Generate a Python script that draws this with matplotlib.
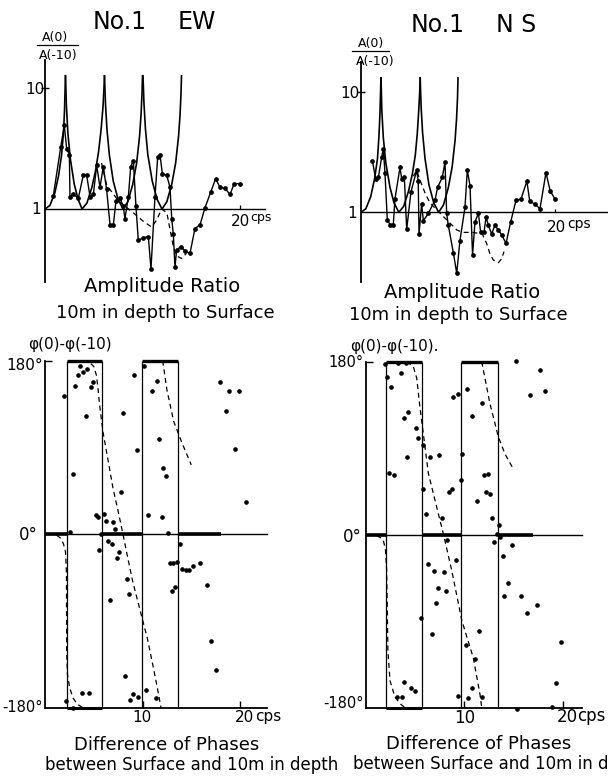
import numpy as np
import matplotlib
matplotlib.use("Agg")
import matplotlib.pyplot as plt

W, H = 608, 778
plt.rcParams['font.family'] = ['DejaVu Sans']

# ---------------- amplitude ratio, EW ----------------
ew_amp_f = [0.85, 1.61, 1.98, 2.22, 2.50, 2.56, 2.91, 3.42, 3.93, 4.27, 4.62, 4.96, 5.30, 5.64, 5.98,
            6.32, 6.67, 7.01, 7.28, 7.69, 8.03, 8.2, 8.55, 8.79, 9.06, 9.33, 9.57, 10.09, 10.6, 10.87,
            11.28, 11.56, 11.79, 12.04, 12.48, 12.82, 13.0, 13.16, 13.33, 13.5, 13.95, 14.36, 14.87,
            15.38, 15.9, 16.4, 17.0, 17.5, 17.95, 18.46, 18.98, 19.4, 20.0]
ew_amp_r = [1.28, 3.24, 4.9, 3.16, 2.82, 1.26, 1.32, 1.23, 1.91, 1.91, 1.26, 1.32, 2.29, 1.51, 2.24,
            1.45, 0.74, 0.74, 1.17, 1.23, 1.05, 0.83, 1.26, 2.24, 2.51, 1.05, 0.55, 0.58, 0.59, 0.32,
            1.26, 2.69, 2.82, 1.95, 1.91, 1.51, 0.83, 0.62, 0.33, 0.46, 0.49, 0.45, 0.43,
            0.69, 0.74, 1.02, 1.38, 1.78, 1.51, 1.48, 1.32, 1.62, 1.62]
ew_dash_f = [5.8, 6.32, 7.52, 9.06, 10.09, 10.94, 11.45, 11.96, 12.5, 12.82, 13.16, 13.5, 14.0, 14.5]
ew_dash_r = [2.4, 1.58, 1.17, 0.93, 0.79, 0.71, 0.81, 1.0, 0.93, 0.68, 0.49, 0.41, 0.39, 0.43]
# theoretical curve, one list per lobe
ew_th_f = [[0, 0.5, 1.0, 1.4, 1.7, 1.9, 2.0, 2.1],
           [2.1, 2.2, 2.35, 2.6, 3.0, 3.4, 3.8, 4.3, 4.8, 5.2, 5.5, 5.75, 5.95, 6.05, 6.1],
           [6.1, 6.2, 6.35, 6.6, 7.0, 7.5, 8.0, 8.5, 9.0, 9.4, 9.7, 9.85, 9.95, 10.0],
           [10.05, 10.15, 10.3, 10.55, 11.0, 11.5, 12.0, 12.5, 13.0, 13.4, 13.7, 13.85, 13.95, 14.0]]
ew_th_r = [[1.0, 1.07, 1.35, 1.9, 2.8, 4.3, 6.5, 12.6],
           [12.6, 7.0, 4.2, 2.6, 1.6, 1.2, 1.0, 1.12, 1.5, 2.1, 3.0, 4.5, 7.0, 10.0, 12.6],
           [12.6, 7.5, 4.6, 2.8, 1.7, 1.2, 1.0, 1.15, 1.6, 2.4, 4.0, 6.0, 9.0, 12.6],
           [12.6, 7.5, 4.6, 2.8, 1.7, 1.2, 1.0, 1.15, 1.6, 2.4, 4.0, 6.0, 9.0, 12.6]]

# ---------------- amplitude ratio, NS ----------------
ns_amp_f = [1.17, 1.51, 1.79, 2.13, 2.3, 2.47, 2.71, 2.99, 3.33, 3.5, 4.02, 4.19, 4.47, 4.71, 5.15,
            5.74, 5.9, 5.98, 6.25, 6.43, 6.94, 7.63, 7.9, 8.38, 8.66, 8.83, 9.0, 9.52, 9.87, 10.2,
            10.72, 10.96, 11.24, 11.5, 11.75, 12.1, 12.34, 12.68, 12.89, 13.13, 13.47, 13.81, 14.16,
            14.5, 14.95, 15.43, 15.98, 16.5, 17.1, 17.4, 17.94, 18.45, 19.07, 19.5, 20.0]
ns_amp_r = [2.69, 1.91, 1.95, 2.88, 3.39, 2.14, 0.87, 0.79, 0.79, 1.29, 2.37, 1.91, 1.95, 0.72, 1.48,
            2.24, 1.82, 0.66, 1.17, 0.85, 0.98, 1.26, 1.62, 1.95, 2.63, 0.98, 0.78, 0.46, 0.31, 0.58,
            1.10, 2.24, 1.66, 0.44, 0.83, 0.98, 0.68, 0.68, 0.91, 0.78, 0.66, 0.78, 0.71,
            0.65, 0.55, 0.83, 1.26, 1.29, 1.82, 1.23, 1.17, 1.07, 2.14, 1.51, 1.29]
ns_dash_f = [5.4, 5.74, 6.08, 6.6, 7.1, 7.8, 8.8, 9.9, 10.5, 11.5, 12.5, 12.95, 13.3, 13.64, 14.16, 14.5, 14.74]
ns_dash_r = [2.0, 2.24, 1.86, 1.45, 1.2, 1.05, 0.87, 0.71, 0.68, 0.68, 0.66, 0.55, 0.45, 0.40, 0.38, 0.41, 0.47]
ns_th_f = [[0, 0.5, 1.0, 1.4, 1.7, 1.85, 1.95, 2.06],
           [2.06, 2.15, 2.3, 2.55, 3.0, 3.4, 3.9, 4.4, 4.9, 5.3, 5.6, 5.8, 5.95, 6.05, 6.1],
           [6.1, 6.2, 6.35, 6.6, 7.0, 7.5, 8.0, 8.5, 9.0, 9.4, 9.7, 9.85, 9.95, 10.0]]
ns_th_r = [[1.0, 1.07, 1.35, 1.9, 2.8, 4.3, 6.5, 13.2],
           [13.2, 7.0, 4.2, 2.6, 1.6, 1.2, 1.0, 1.12, 1.5, 2.1, 3.0, 4.5, 7.0, 10.0, 13.2],
           [13.2, 7.5, 4.6, 2.8, 1.7, 1.2, 1.0, 1.15, 1.6, 2.4, 4.0, 6.0, 9.0, 13.2]]

# ---------------- phase difference, EW ----------------
ew_ph_f = [1.98, 2.84, 2.56, 3.08, 3.42, 3.59, 3.93, 4.34, 4.2, 4.69, 4.89, 5.23, 5.47, 5.57, 5.71,
           6.05, 6.26, 6.43, 6.84, 7.0, 7.18, 7.35, 7.59, 7.76, 7.97, 6.67, 8.38, 8.62, 9.13, 9.44,
           10.15, 10.6, 11.0, 11.5, 11.73, 12.0, 12.14, 12.38, 12.65, 12.82, 13.16, 13.5, 13.85, 13.0,
           13.33, 14.1, 14.46, 14.8, 15.15, 15.9, 16.6, 17.95, 18.9, 19.9, 18.56, 19.5, 20.6, 17.0,
           17.54, 8.2, 8.72, 9.06, 9.57, 10.36, 11.38, 2.15, 2.9, 3.76, 4.55]
ew_ph_v = [143, 63, 2, 154, 165, 174, 168, 171, 123, 153, 158, 20, 18, -16, 0,
           21, 14, -7, -10, 13, 6, -25, -18, 44, 126, -68, -46, -62, 165, 87,
           174, 20, 149, 159, 99, 18, 69, 60, 1, -30, -30, -29, -10, -59,
           -55, -36, -37, -37, -33, -30, -53, 158, 149, 149, 128, 88, 34, -111,
           -141, -147, -172, -166, -169, -161, -170, -173, -180, -165, -164]
ew_edges = [2.23, 5.88, 9.92, 13.67]
ew_d1_f = [1.2, 1.6, 1.9, 2.1, 2.2, 2.22, 2.3, 2.55, 2.9, 3.3, 3.9]
ew_d1_v = [-1, -4, -10, -18, -40, -120, -145, -160, -170, -176, -180]
ew_d2_f = [3.9, 4.5, 5.0, 5.27, 5.45, 5.6, 5.95, 6.5, 6.97, 7.5, 8.0, 8.5, 9.0, 9.86, 10.5, 11.05, 11.5, 11.9]
ew_d2_v = [180, 179, 174, 165, 150, 134, 106, 75, 48, 24, 0, -25, -49, -83, -108, -135, -158, -180]
ew_d3_f = [12.07, 12.5, 13.2, 14.0, 15.0]
ew_d3_v = [180, 150, 117, 96, 72]

# ---------------- phase difference, NS ----------------
ns_ph_f = [1.96, 2.13, 2.54, 3.31, 4.09, 3.55, 4.33, 3.92, 5.1, 5.34, 4.16, 2.4, 2.9, 5.79, 5.85,
           6.12, 6.53, 7.47, 7.72, 8.49, 8.73, 8.22, 9.17, 6.36, 6.93, 7.95, 7.37, 8.12, 7.1, 8.83,
           9.4, 10.3, 9.75, 9.68, 10.82, 11.27, 11.8, 12.0, 12.45, 12.2, 12.6, 12.85, 13.3, 13.53,
           13.63, 13.06, 13.9, 14.82, 14.4, 14.04, 15.8, 16.35, 17.36, 15.23, 16.68, 17.7, 18.2,
           5.58, 6.76, 19.83, 19.32, 10.15, 11.1, 11.53, 10.76, 10.35, 9.4, 11.76, 3.89, 4.6, 5.0,
           3.15, 3.65, 15.4, 18.95]
ns_ph_v = [178, 164, 154, 179, 179, 168, 128, 121, 111, 101, 81, 64, 62, 93, 48,
           22, 81, 83, 17, 44, 48, -6, -26, -30, -38, -39, -55, -59, -71, 143,
           146, 152, 84, 57, 123, 35, 137, 62, 63, 44, 42, 17, 1, 10,
           -2, -8, -22, -11, -50, -64, -64, -82, -73, 181, 145, 171, 149,
           -87, -103, -112, -154, -115, -129, -100, -160, -170, -168, -169, -153, -160, -163,
           -169, -169, -181, -179]
ns_edges = [2.06, 5.75, 9.68, 13.46]
ns_d1_f = [1.1, 1.5, 1.79, 2.0, 2.12, 2.2, 2.25, 2.47, 2.97, 3.5, 4.0]
ns_d1_v = [-1, -3, -6, -15, -35, -80, -120, -152, -169, -176, -180]
ns_d2_f = [4.16, 4.83, 5.18, 5.5, 5.85, 6.36, 7.2, 7.88, 8.73, 9.5, 9.75, 10.92, 11.6, 11.78]
ns_d2_v = [180, 175, 163, 133, 105, 64, 29, 1, -37, -76, -89, -128, -166, -180]
ns_d3_f = [11.78, 12.6, 13.46, 14.14, 14.9]
ns_d3_v = [180, 137, 102, 84, 70]

fig = plt.figure(figsize=(W / 100, H / 100), dpi=100)


def add_ax(x0, ytop, x1, ybot):
    return fig.add_axes([x0 / W, 1 - ybot / H, (x1 - x0) / W, (ybot - ytop) / H])


def txt(x, y, s, size=12, ha='left', **kw):
    fig.text(x / W, 1 - y / H, s, fontsize=size, ha=ha, va='center', **kw)


dash = (0, (4, 3))


def amp_panel(ax, xmax, lo, hi, th_f, th_r, f, r, df, dr, xline_end):
    ax.set_yscale('log')
    ax.set_xlim(0, xmax)
    ax.set_ylim(lo, hi)
    for s in ['top', 'right', 'bottom']:
        ax.spines[s].set_visible(False)
    ax.spines['left'].set_linewidth(1.3)
    ax.patch.set_alpha(0)
    ax.set_xticks([])
    ax.yaxis.set_minor_locator(matplotlib.ticker.NullLocator())
    ax.set_yticks([10])
    ax.set_yticklabels([])
    ax.tick_params(axis='y', direction='inout', length=6, width=1)
    ax.plot([0, xline_end], [1, 1], color='black', lw=1.0, clip_on=False)
    ax.vlines(20, 1, 1.07, color='black', lw=0.9)
    for tf, tr in zip(th_f, th_r):
        ax.plot(tf, tr, color='black', lw=1.2)
    ax.plot(df, dr, color='black', lw=0.9, ls=dash)
    ax.plot(f, r, color='black', lw=1.0, marker='o', ms=2.4)


def phase_panel(ax, xmax, lo, hi, edges, f, v, dashes, thick_end, xend):
    ax.set_xlim(0, xmax)
    ax.set_ylim(lo, hi)
    ax.patch.set_alpha(0)
    for s in ['top', 'right']:
        ax.spines[s].set_visible(False)
    ax.spines['left'].set_bounds(-180, 180)
    ax.spines['left'].set_linewidth(1.3)
    ax.spines['bottom'].set_position(('data', -180))
    ax.spines['bottom'].set_bounds(0, xend)
    ax.spines['bottom'].set_linewidth(1.3)
    ax.set_xticks([10, 20])
    ax.set_xticklabels([])
    ax.set_yticks([180])
    ax.set_yticklabels([])
    ax.tick_params(direction='in', length=5, width=1)
    for e in edges:
        ax.vlines(e, -180, 180, color='black', lw=0.9)
    ax.plot([0, xend], [0, 0], color='black', lw=1.0)
    ax.plot([0, edges[0]], [0, 0], color='black', lw=2.6, solid_capstyle='butt')
    ax.plot([edges[1], edges[2]], [0, 0], color='black', lw=2.6, solid_capstyle='butt')
    ax.plot([edges[3], thick_end], [0, 0], color='black', lw=2.6, solid_capstyle='butt')
    ax.plot([edges[0], edges[1]], [180, 180], color='black', lw=2.4, solid_capstyle='butt')
    ax.plot([edges[2], edges[3]], [180, 180], color='black', lw=2.4, solid_capstyle='butt')
    ax.plot([edges[0], edges[1]], [-180, -180], color='black', lw=2.2, solid_capstyle='butt')
    for df, dv in dashes:
        ax.plot(df, dv, color='black', lw=0.9, ls=dash)
    ax.plot(f, v, ls='none', marker='o', ms=2.3, color='black', clip_on=False)


# EW amplitude
ax1 = add_ax(45, 60, 265, 282)
amp_panel(ax1, 220 / 9.75, 10 ** -0.603, 10 ** 1.231, ew_th_f, ew_th_r,
          ew_amp_f, ew_amp_r, ew_dash_f, ew_dash_r, 22.6)
# NS amplitude
ax2 = add_ax(361, 62, 608, 282)
amp_panel(ax2, 247 / 9.7, 10 ** -0.581, 10 ** 1.2525, ns_th_f, ns_th_r,
          ns_amp_f, ns_amp_r, ns_dash_f, ns_dash_r, 25.5)
# EW phase
ax3 = add_ax(45, 352, 270, 712)
phase_panel(ax3, 225 / 9.75, -184.2, 189.0, ew_edges, ew_ph_f, ew_ph_v,
            [(ew_d1_f, ew_d1_v), (ew_d2_f, ew_d2_v), (ew_d3_f, ew_d3_v)], 18.0, 22.8)
# NS phase
ax4 = add_ax(365.7, 352, 608, 712)
phase_panel(ax4, 242.3 / 9.85, -184.5, 190.1, ns_edges, ns_ph_f, ns_ph_v,
            [(ns_d1_f, ns_d1_v), (ns_d2_f, ns_d2_v), (ns_d3_f, ns_d3_v)], 17.0, 22.0)

# titles
txt(93, 22, 'No.1', 17)
txt(178, 22, 'EW', 17)
txt(411, 25, 'No.1', 17)
txt(496, 25, 'N S', 17)

# amplitude labels
txt(55, 37, 'A(0)', 9, ha='center')
fig.add_artist(plt.Line2D([37 / W, 78 / W], [1 - 45 / H, 1 - 45 / H], color='black', lw=0.9))
txt(58, 56, 'A(-10)', 9, ha='center')
txt(371, 43, 'A(0)', 9, ha='center')
fig.add_artist(plt.Line2D([352 / W, 389 / W], [1 - 51 / H, 1 - 51 / H], color='black', lw=0.9))
txt(375, 61, 'A(-10)', 9, ha='center')
txt(35, 90, '10', 11, ha='center')
txt(36, 210, '1', 11, ha='center')
txt(350, 93, '10', 11, ha='center')
txt(352, 213, '1', 11, ha='center')
txt(231, 221, '20', 11)
txt(250, 217, 'cps', 9)
txt(547, 227, '20', 11)
txt(567, 224, 'cps', 10)
txt(162, 287, 'Amplitude Ratio', 14, ha='center')
txt(165, 313, '10m in depth to Surface', 13, ha='center')
txt(462, 293, 'Amplitude Ratio', 14, ha='center')
txt(458, 315, '10m in depth to Surface', 13, ha='center')

# phase labels
txt(28, 345, 'φ(0)-φ(-10)', 11)
txt(350, 347, 'φ(0)-φ(-10).', 11)
txt(43, 366, '180°', 11, ha='right')
txt(38, 535, '0°', 12, ha='right')
txt(43, 707, '-180°', 10.5, ha='right')
txt(364, 362, '180°', 10.5, ha='right')
txt(362, 537, '0°', 12, ha='right')
txt(364, 704, '-180°', 10.5, ha='right')
txt(142, 718, '10', 11, ha='center')
txt(235, 718, '20', 11)
txt(255, 717, 'cps', 11)
txt(465, 718, '10', 12, ha='center')
txt(557, 717, '20', 12)
txt(577, 716, 'cps', 12)
txt(167, 745, 'Difference of Phases', 13, ha='center')
txt(45, 765, 'between Surface and 10m in depth', 12)
txt(479, 744, 'Difference of Phases', 13, ha='center')
txt(353, 764, 'between Surface and 10m in depth', 12)

fig.savefig('out.png', dpi=100)
